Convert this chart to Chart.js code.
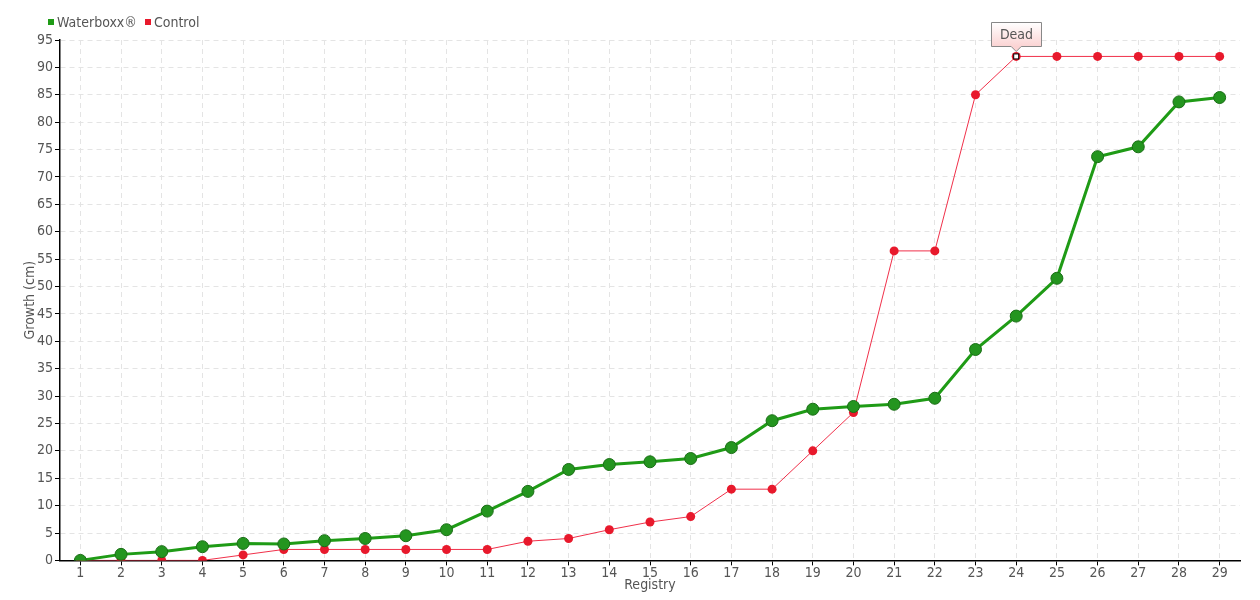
<!DOCTYPE html>
<html>
<head>
<meta charset="utf-8">
<script src="https://cdn.jsdelivr.net/npm/chart.js@4.4.1/dist/chart.umd.min.js"></script>
<style>
  html, body { margin: 0; padding: 0; background: #fff; }
  #wrap { position: relative; width: 1260px; height: 600px; }
  #legend-container { position: absolute; left: 48px; top: 14px; }
  #legend-container ul { list-style: none; margin: 0; padding: 0; display: flex; }
  #legend-container li { margin-right: 8px; font-family: 'DejaVu Sans Condensed', sans-serif; font-size: 14px; color: #555; }
</style>
</head>
<body>
<div id="wrap">
  <div id="legend-container"></div>
  <canvas id="chart" width="1260" height="600"></canvas>
</div>
<script>
// data
const registry = ["1","2","3","4","5","6","7","8","9","10","11","12","13","14","15","16","17","18","19","20","21","22","23","24","25","26","27","28","29"];
const waterboxx = [0, 1.1, 1.6, 2.5, 3.1, 3.0, 3.6, 4.0, 4.5, 5.6, 9.0, 12.6, 16.6, 17.5, 18.0, 18.6, 20.6, 25.5, 27.6, 28.1, 28.5, 29.6, 38.5, 44.6, 51.5, 73.7, 75.5, 83.7, 84.5];
const control = [0, 0, 0, 0, 1, 2, 2, 2, 2, 2, 2, 3.5, 4, 5.6, 7, 8, 13, 13, 20, 27, 56.5, 56.5, 85, 92, 92, 92, 92, 92, 92];
const deadIndex = 23; // registry 24
const deadLabel = "Dead";

const fontFamily = "'DejaVu Sans Condensed', sans-serif";
const textColor = "#555";

// html legend, small squares in front of the names
const htmlLegendPlugin = {
  id: "htmlLegend",
  afterUpdate(chart, args, options) {
    const box = document.getElementById(options.containerID);
    let ul = box.querySelector("ul");
    if (!ul) {
      ul = document.createElement("ul");
      box.appendChild(ul);
    }
    while (ul.firstChild) ul.firstChild.remove();

    chart.data.datasets.forEach((ds) => {
      const li = document.createElement("li");
      li.style.display = "flex";
      li.style.alignItems = "center";

      const sq = document.createElement("span");
      sq.style.display = "inline-block";
      sq.style.width = "6px";
      sq.style.height = "6px";
      sq.style.marginRight = "3px";
      sq.style.background = ds.legendColor;

      const t = document.createElement("span");
      t.textContent = ds.label;

      li.appendChild(sq);
      li.appendChild(t);
      ul.appendChild(li);
    });
  }
};

// callout "Dead" above the control point
const deadCallout = {
  id: "deadCallout",
  afterDatasetsDraw(chart) {
    const ctx = chart.ctx;
    const x = chart.scales.x.getPixelForValue(deadIndex);
    const y = chart.scales.y.getPixelForValue(control[deadIndex]);

    ctx.save();
    ctx.fillStyle = "#fff";
    ctx.strokeStyle = "#000";
    ctx.lineWidth = 1;
    ctx.fillRect(x - 2.5, y - 2.5, 5, 5);
    ctx.strokeRect(x - 2.5, y - 2.5, 5, 5);

    const w = 50, h = 24;
    const bx = Math.round(x - 25) + 0.5, by = Math.round(y - 34) + 0.5;
    const g = ctx.createLinearGradient(0, by, 0, by + h);
    g.addColorStop(0, "#ffffff");
    g.addColorStop(1, "#fbd3d3");
    ctx.beginPath();
    ctx.moveTo(bx, by);
    ctx.lineTo(bx + w, by);
    ctx.lineTo(bx + w, by + h);
    ctx.lineTo(x + 5, by + h);
    ctx.lineTo(x, by + h + 5);
    ctx.lineTo(x - 5, by + h);
    ctx.lineTo(bx, by + h);
    ctx.closePath();
    ctx.fillStyle = g;
    ctx.fill();
    ctx.strokeStyle = "#888";
    ctx.stroke();

    ctx.fillStyle = textColor;
    ctx.font = "14px " + fontFamily;
    ctx.textAlign = "center";
    ctx.textBaseline = "middle";
    ctx.fillText(deadLabel, bx + w / 2, by + h / 2 + 1);
    ctx.restore();
  }
};

const chart = new Chart(document.getElementById("chart"), {
  type: "line",
  data: {
    labels: registry,
    datasets: [
      {
        label: "Waterboxx®",
        data: waterboxx,
        legendColor: "#1f9b16",
        borderColor: "#1f9b16",
        backgroundColor: "#1f9b16",
        borderWidth: 3,
        pointRadius: 6,
        pointBackgroundColor: "#24951f",
        pointBorderColor: "#1a6e16",
        pointBorderWidth: 1,
        tension: 0,
        order: 1
      },
      {
        label: "Control",
        data: control,
        legendColor: "#e8192c",
        borderColor: "#f0304a",
        backgroundColor: "#e8192c",
        borderWidth: 1,
        pointRadius: 4.5,
        pointBackgroundColor: "#e8192c",
        pointBorderColor: "#e8192c",
        pointBorderWidth: 0,
        tension: 0,
        order: 2
      }
    ]
  },
  options: {
    responsive: false,
    animation: false,
    layout: { padding: { left: 22, right: 20, top: 40, bottom: 6 } },
    plugins: {
      tooltip: { enabled: false },
      legend: { display: false },
      htmlLegend: { containerID: "legend-container" }
    },
    scales: {
      x: {
        offset: true,
        grid: {
          offset: false,
          color: "#e4e4e4",
          tickColor: "#000",
          tickBorderDash: [],
          tickLength: 5
        },
        border: { color: "#000", width: 1.5, dash: [5, 4] },
        ticks: {
          color: textColor,
          padding: 0,
          maxRotation: 0,
          font: { family: fontFamily, size: 14 }
        },
        title: {
          display: true,
          text: "Registry",
          color: textColor,
          padding: { top: -5, bottom: 0 },
          font: { family: fontFamily, size: 14 }
        }
      },
      y: {
        min: 0,
        max: 95,
        afterFit(scale) { scale.width = 38; },
        grid: {
          color: "#e4e4e4",
          tickColor: "#000",
          tickBorderDash: [],
          tickLength: 5
        },
        border: { color: "#000", width: 1.5, dash: [5, 4] },
        ticks: {
          stepSize: 5,
          color: textColor,
          padding: 2,
          font: { family: fontFamily, size: 14 }
        },
        title: {
          display: true,
          text: "Growth (cm)",
          color: textColor,
          padding: { top: 0, bottom: 0 },
          font: { family: fontFamily, size: 14 }
        }
      }
    }
  },
  plugins: [htmlLegendPlugin, deadCallout]
});
</script>
</body>
</html>
